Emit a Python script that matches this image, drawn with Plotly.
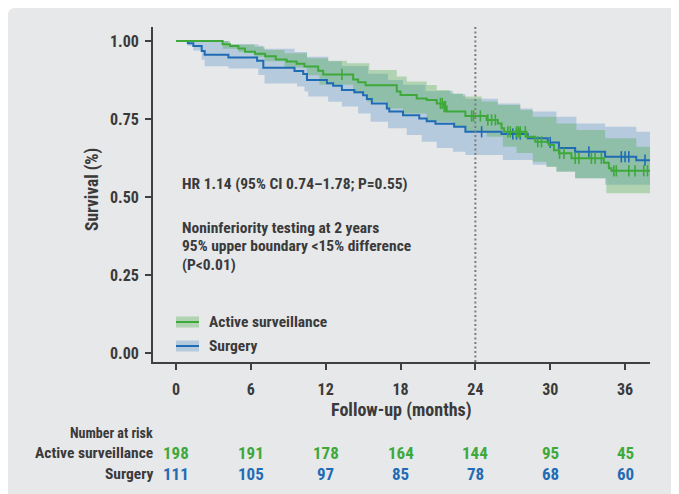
import plotly.graph_objects as go

# ---------------- data ----------------
times_as = [0, 3.74, 4.33, 5.0, 5.53, 6.33, 7.14, 8.0, 8.87, 9.67, 10.3, 11.4, 11.8, 14.2, 14.6, 15.2,
            17.7, 18.0, 19.3, 20.1, 20.9, 21.4, 21.7, 23.2, 24.9, 25.8, 26.1, 26.3, 28.1, 28.8, 29.9,
            30.3, 30.7, 31.7, 34.3, 34.7, 34.9]
surv_as = [1.0, .990, .984, .976, .966, .959, .951, .941, .934, .927, .918, .905, .893, .877, .868, .858,
           .838, .827, .816, .811, .800, .790, .774, .760, .747, .736, .720, .709, .693, .677, .667,
           .650, .640, .624, .610, .592, .584]
times_sx = [0, 0.95, 1.39, 2.06, 2.3, 4.2, 6.5, 7.0, 9.5, 10.2, 10.5, 12.1, 12.6, 13.3, 14.3, 15.0,
            15.3, 15.7, 16.9, 17.1, 18.2, 19.5, 20.1, 20.8, 22.3, 23.2, 26.1, 28.2, 29.8, 30.7, 32.0,
            34.4, 36.9]
surv_sx = [1.0, .993, .984, .968, .956, .947, .937, .914, .904, .894, .875, .865, .857, .843, .836, .826,
           .814, .800, .784, .774, .762, .752, .743, .735, .725, .709, .702, .688, .675, .657, .645,
           .629, .618]

# confidence bands (step functions)
as_up_t = [0, 4.33, 6.3, 7.1, 8.7, 10.5, 12.2, 13.7, 15.5, 17.7, 18.5, 20.1, 20.9, 22.0, 23.0, 24.5,
           25.8, 27.6, 28.6, 30.5, 32.1, 34.4, 36.9]
as_up_v = [1.0, .989, .982, .971, .961, .945, .937, .929, .907, .886, .870, .859, .843, .832, .822, .806,
           .795, .779, .757, .736, .715, .688, .661]
as_lo_t = [0, 3.74, 5.0, 6.3, 7.1, 8.7, 10.5, 11.5, 14.2, 15.3, 16.9, 18.2, 20.1, 22.2, 23.2, 24.9,
           26.2, 27.3, 28.6, 29.7, 30.5, 32.0, 34.5]
as_lo_v = [1.0, .975, .965, .950, .935, .915, .890, .860, .832, .805, .784, .768, .741, .725, .710, .693,
           .661, .641, .613, .596, .581, .560, .512]
sx_up_t = [0, 4.2, 6.6, 7.0, 9.5, 10.5, 12.2, 13.3, 15.4, 17.0, 18.2, 20.0, 22.2, 23.2, 25.8, 27.6,
           28.6, 30.5, 32.1, 34.4, 36.9]
sx_up_v = [1.0, .99, .985, .975, .965, .95, .935, .92, .895, .875, .86, .84, .83, .815, .80, .784,
           .774, .757, .736, .725, .709]
sx_lo_t = [0, 0.95, 1.39, 2.06, 2.3, 4.2, 6.6, 7.1, 9.7, 10.3, 10.6, 12.2, 13.3, 14.6, 15.6, 17.0,
           18.5, 19.7, 20.9, 22.2, 23.2, 26.2, 28.6, 29.7, 30.5, 32.0, 34.4]
sx_lo_v = [1.0, .985, .97, .94, .919, .912, .891, .864, .854, .838, .822, .805, .790, .768, .741, .720,
           .699, .677, .657, .645, .635, .619, .603, .598, .582, .560, .539]

# censoring times
cens_as = [13.3, 21.2, 21.35, 21.5, 21.6, 23.7, 23.85, 24.4, 25.0, 25.3, 25.6, 26.6, 26.8, 27.3, 27.45,
           27.6, 28.0, 29.0, 29.3, 30.75, 31.1, 32.0, 32.3, 33.3, 33.6, 34.1, 35.1, 35.3, 36.3, 36.8,
           37.5, 37.8]
cens_sx = [24.5, 27.0, 27.3, 27.6, 30.0, 33.1, 35.7, 36.0, 36.3, 37.6]
t_end = 38.0

# number at risk
risk_times = [0, 6, 12, 18, 24, 30, 36]
risk_as = [198, 191, 178, 164, 144, 95, 45]
risk_sx = [111, 105, 97, 85, 78, 68, 60]

x_ticks = [0, 6, 12, 18, 24, 30, 36]
y_ticks = [0.0, 0.25, 0.5, 0.75, 1.0]
y_ticklabels = ["0.00", "0.25", "0.50", "0.75", "1.00"]

# ---------------- styling ----------------
GREEN = "#3ea93a"
BLUE = "#1f6cb4"
GREEN_BAND = "rgba(62,169,58,0.32)"
BLUE_BAND = "rgba(31,108,180,0.24)"
TXT = "#3a3a3a"
BG = "#e7e8ea"
FONT = "Roboto Condensed, Liberation Sans Narrow, Roboto, sans-serif"

W, H = 679, 494
OFF = 8                       # page offset of the figure (body margin)
L, R, T, B = 145, 37, 19, 140  # figure margins
PW, PH = W - L - R, H - T - B


def px2x(px):   # page pixel -> paper x
    return (px - OFF - L) / PW


def py2y(py):   # page pixel -> paper y
    return (H - B - (py - OFF)) / PH


def step_xy(t, v, end):
    xs, ys = [], []
    for i in range(len(t)):
        nxt = t[i + 1] if i + 1 < len(t) else end
        xs += [t[i], nxt]
        ys += [v[i], v[i]]
    return xs, ys


def surv_at(t, v, x):
    s = v[0]
    for ti, vi in zip(t, v):
        if ti <= x:
            s = vi
    return s


fig = go.Figure()

for (ut, uv, lt, lv, col) in [(sx_up_t, sx_up_v, sx_lo_t, sx_lo_v, BLUE_BAND),
                              (as_up_t, as_up_v, as_lo_t, as_lo_v, GREEN_BAND)]:
    ux, uy = step_xy(ut, uv, t_end)
    lx, ly = step_xy(lt, lv, t_end)
    fig.add_trace(go.Scatter(x=ux + lx[::-1], y=uy + ly[::-1], fill="toself", fillcolor=col,
                             line=dict(width=0), mode="lines", hoverinfo="skip", showlegend=False))

for (t, v, cens, col) in [(times_sx, surv_sx, cens_sx, BLUE), (times_as, surv_as, cens_as, GREEN)]:
    x, y = step_xy(t, v, t_end)
    fig.add_trace(go.Scatter(x=x, y=y, mode="lines", line=dict(color=col, width=2), showlegend=False))
    fig.add_trace(go.Scatter(x=cens, y=[surv_at(t, v, c) for c in cens], mode="markers",
                             marker=dict(symbol="line-ns", size=8, line=dict(color=col, width=1.6)),
                             showlegend=False))

shapes = []
# white notch for the rounded top-left corner of the grey panel
shapes.append(dict(type="path", xref="paper", yref="paper", layer="below",
                   path=(f"M{px2x(OFF)},{py2y(OFF)} L{px2x(OFF + 7)},{py2y(OFF)} "
                         f"Q{px2x(OFF)},{py2y(OFF)} {px2x(OFF)},{py2y(OFF + 7)} Z"),
                   fillcolor="white", line=dict(width=0)))
# 2-year dotted line
shapes.append(dict(type="line", xref="x", yref="paper", x0=24, x1=24, y0=0, y1=1,
                   line=dict(color="#7c7c7c", width=2, dash="2px,2.5px")))
# legend patches
for (cy, band, col) in [(322, GREEN_BAND, GREEN), (346, BLUE_BAND, BLUE)]:
    shapes.append(dict(type="rect", xref="paper", yref="paper", x0=px2x(176), x1=px2x(199),
                       y0=py2y(cy + 5.5), y1=py2y(cy - 5.5), fillcolor=band, line=dict(width=0)))
    shapes.append(dict(type="line", xref="paper", yref="paper", x0=px2x(176), x1=px2x(199),
                       y0=py2y(cy), y1=py2y(cy), line=dict(color=col, width=2)))

ann = []


def bold(s):
    return f"<b>{s}</b>"


def text(s, px, py, size, color=TXT, xanchor="left", xref="paper", x=None, angle=0):
    ann.append(dict(text=bold(s), x=px2x(px) if x is None else x, y=py2y(py), xref=xref, yref="paper",
                    xanchor=xanchor, yanchor="middle", showarrow=False, textangle=angle,
                    font=dict(size=size, color=color, family=FONT)))


text("Active surveillance", 207, 322, 15.5)
text("Surgery", 207, 346, 15.5)
text("HR 1.14 (95% CI 0.74–1.78; P=0.55)", 180, 184, 15.5)
text("Noninferiority testing at 2 years", 180, 228, 15.5)
text("95% upper boundary &lt;15% difference", 180, 246, 15.5)
text("(P&lt;0.01)", 180, 265, 15.5)
# axis titles
text("Survival (%)", 92, 190, 17.5, xanchor="center", angle=-90)
text("Follow-up (months)", 401, 410, 18, xanchor="center")
# number at risk table
text("Number at risk", 155, 433, 14, xanchor="right")
text("Active surveillance", 155, 453, 15.5, xanchor="right")
text("Surgery", 155, 474, 15.5, xanchor="right")
for t, a, s in zip(risk_times, risk_as, risk_sx):
    text(a, 0, 453, 17, color=GREEN, xanchor="center", xref="x", x=t)
    text(s, 0, 474, 17, color=BLUE, xanchor="center", xref="x", x=t)

axis_common = dict(showgrid=False, zeroline=False, showline=True, linecolor="#404040", linewidth=2,
                   ticks="outside", ticklen=6, tickwidth=2, tickcolor="#404040",
                   tickfont=dict(size=16, color=TXT, family=FONT))

fig.update_layout(
    width=W, height=H, margin=dict(l=L, r=R, t=T, b=B),
    paper_bgcolor=BG, plot_bgcolor="rgba(0,0,0,0)",
    shapes=shapes, annotations=ann, showlegend=False,
    xaxis=dict(range=[(153 - 176) / 12.472, t_end], tickvals=x_ticks,
               ticktext=[bold(v) for v in x_ticks], ticklabelstandoff=6, **axis_common),
    yaxis=dict(range=[-0.029, 1.045], tickvals=y_ticks,
               ticktext=[bold(v) for v in y_ticklabels], ticklabelstandoff=3, **axis_common),
)

fig.write_html("out.html")
